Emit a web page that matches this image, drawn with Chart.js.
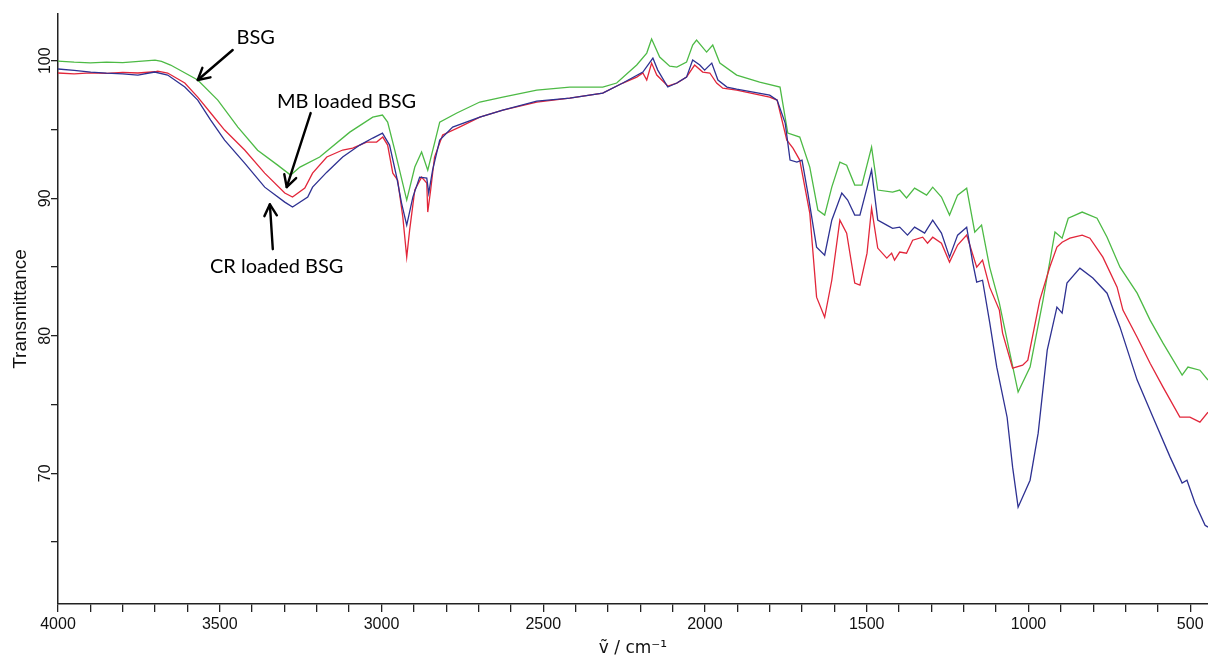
<!DOCTYPE html>
<html><head><meta charset="utf-8">
<script src="https://cdn.jsdelivr.net/npm/chart.js@4.4.1/dist/chart.umd.min.js"></script>
<style>html,body{margin:0;padding:0;background:#fff;} #wrap{width:1208px;height:659px;}</style>
</head><body><div id="wrap"><canvas id="c" width="1208" height="659"></canvas></div>
<script>
// ---- data (wavenumber in cm^-1, transmittance in %) ----
const bsgWavenumber = [4000,3950,3900,3850,3800,3750,3700,3680,3652,3568,3506,3444,3383,3321,3281,3252,3191,3098,3027,2997,2981,2959,2922,2897,2876,2857,2836,2820,2767,2696,2625,2520,2418,2316,2273,2211,2180,2165,2140,2109,2087,2057,2038,2026,1995,1976,1954,1902,1831,1768,1744,1707,1676,1651,1630,1608,1583,1562,1537,1515,1485,1466,1420,1398,1377,1352,1315,1296,1269,1244,1219,1191,1166,1145,1120,1090,1066,1032,995,955,918,896,877,834,788,757,717,664,624,584,525,507,470,445];
const bsgTransmittance = [99.98,99.9,99.85,99.9,99.87,99.95,100.05,99.95,99.69,98.6,97.14,95.18,93.5,92.41,91.69,92.27,93.0,94.81,95.9,96.05,95.54,93.5,89.87,92.27,93.36,92.05,94.01,95.54,96.2,97.0,97.35,97.87,98.09,98.09,98.38,99.69,100.56,101.58,100.27,99.61,99.54,99.9,101.14,101.5,100.63,101.14,99.83,98.96,98.45,98.09,94.74,94.45,92.27,89.14,88.78,90.81,92.63,92.41,90.96,90.96,93.72,90.6,90.45,90.6,90.02,90.74,90.23,90.81,90.09,88.78,90.23,90.74,87.54,88.05,85.0,82.38,79.69,75.91,77.73,82.6,87.55,87.1,88.55,89.0,88.55,87.17,84.99,83.1,81.14,79.47,77.14,77.73,77.5,76.78];

const mbWavenumber = [4000,3950,3900,3850,3800,3753,3700,3692,3661,3608,3568,3528,3485,3423,3361,3299,3275,3237,3213,3169,3120,3089,3046,3015,2996,2981,2965,2950,2934,2922,2913,2897,2876,2860,2857,2848,2836,2811,2759,2696,2625,2520,2418,2316,2254,2211,2192,2180,2165,2149,2115,2087,2057,2032,2007,1985,1964,1945,1902,1800,1777,1747,1728,1707,1676,1655,1630,1608,1583,1562,1537,1521,1499,1485,1466,1438,1423,1414,1398,1377,1358,1327,1312,1296,1269,1244,1219,1191,1160,1142,1120,1090,1080,1049,1018,1002,965,934,912,896,872,834,810,770,726,708,664,624,584,532,501,470,445];
const mbTransmittance = [99.11,99.05,99.12,99.08,99.15,99.11,99.2,99.25,99.11,98.38,97.36,96.2,94.96,93.51,91.83,90.38,90.09,90.74,91.83,93.0,93.51,93.65,94.09,94.09,94.45,93.87,91.83,91.32,88.63,85.72,87.69,90.6,91.54,91.11,89.0,90.6,93.0,94.6,95.18,95.9,96.41,97.0,97.29,97.65,98.38,98.81,99.11,98.6,99.83,98.96,98.16,98.38,98.81,99.69,99.18,99.11,98.38,98.01,97.87,97.36,97.14,94.23,93.65,92.78,88.92,82.81,81.35,84.04,88.41,87.47,83.83,83.69,86.01,89.29,86.38,85.65,86.01,85.5,86.09,86.01,86.95,87.17,86.74,87.17,86.74,85.36,86.6,87.32,84.99,85.5,83.54,81.87,80.2,77.65,77.87,78.23,82.6,85.0,86.45,86.81,87.1,87.32,87.1,85.72,83.54,81.87,79.9,78.0,76.27,74.09,74.09,73.72,74.45];

const crWavenumber = [4000,3950,3899,3850,3800,3753,3701,3661,3608,3568,3528,3485,3423,3361,3299,3275,3228,3213,3169,3120,3067,3027,2997,2975,2953,2938,2922,2903,2882,2860,2854,2842,2820,2780,2696,2625,2520,2418,2316,2254,2192,2161,2146,2115,2087,2057,2038,2016,2001,1979,1960,1932,1902,1800,1777,1752,1737,1716,1700,1682,1655,1630,1608,1577,1559,1537,1521,1485,1466,1438,1420,1398,1374,1352,1321,1296,1269,1244,1219,1191,1172,1160,1142,1120,1098,1066,1049,1032,995,970,942,912,896,881,841,801,757,717,664,615,562,525,510,485,454,445];
const crTransmittance = [99.4,99.3,99.18,99.1,99.05,98.96,99.18,98.96,98.09,97.14,95.69,94.23,92.56,90.81,89.72,89.36,90.09,90.81,91.9,93.0,93.87,94.38,94.74,93.87,91.54,89.65,88.05,90.09,91.54,91.47,90.38,92.05,94.23,95.18,95.9,96.41,97.07,97.29,97.65,98.38,99.18,100.2,99.32,98.09,98.38,98.81,100.05,99.69,99.32,99.83,98.6,98.09,97.94,97.5,97.14,95.47,92.78,92.63,92.78,90.38,86.45,85.87,88.41,90.38,89.87,88.78,88.78,92.05,88.41,88.05,87.82,87.9,87.32,87.9,87.47,88.41,87.47,85.72,87.32,87.9,85.29,83.9,84.04,81.0,77.72,74.08,70.45,67.54,69.5,72.92,78.96,82.09,81.65,83.83,84.92,84.2,83.1,80.63,76.78,74.08,71.18,69.29,69.5,67.83,66.23,66.09];

const xTickStep = 100;   // minor ticks every 100 cm-1, labels every 500
const yTickStep = 5;     // minor ticks every 5, labels every 10

// ---- annotation layout (in data units) ----
const notes = [
  {text:'BSG',           at:[3389,101.72], from:[3460,100.78], to:[3568,98.6]},
  {text:'MB loaded BSG', at:[3108,97.07],  from:[3219,96.2],   to:[3293,90.82]},
  {text:'CR loaded BSG', at:[3324,85.07],  from:[3336,86.3],   to:[3345,89.56]}
];

function pairs(xs, ys){ return xs.map((x,i)=>({x:x, y:ys[i]})); }

const annotationPlugin = {
  id:'notes',
  afterDatasetsDraw(chart){
    const {ctx, scales:{x, y}} = chart;
    ctx.save();
    ctx.strokeStyle = '#000'; ctx.fillStyle = '#000';
    ctx.lineWidth = 2.4; ctx.lineCap = 'round'; ctx.lineJoin='round';
    ctx.font = '20px Lato';
    ctx.textAlign = 'center'; ctx.textBaseline = 'middle';
    notes.forEach(n=>{
      ctx.fillText(n.text, x.getPixelForValue(n.at[0]), y.getPixelForValue(n.at[1]));
      const x1 = x.getPixelForValue(n.from[0]), y1 = y.getPixelForValue(n.from[1]);
      const x2 = x.getPixelForValue(n.to[0]),   y2 = y.getPixelForValue(n.to[1]);
      ctx.beginPath(); ctx.moveTo(x1,y1); ctx.lineTo(x2,y2); ctx.stroke();
      const a = Math.atan2(y2-y1, x2-x1), L = 13, s = 0.5;
      ctx.beginPath();
      ctx.moveTo(x2 - L*Math.cos(a - s), y2 - L*Math.sin(a - s));
      ctx.lineTo(x2, y2);
      ctx.lineTo(x2 - L*Math.cos(a + s), y2 - L*Math.sin(a + s));
      ctx.stroke();
    });
    ctx.restore();
  }
};

const lineStyle = {showLine:true, pointRadius:0, borderWidth:1.3, tension:0, fill:false};

new Chart(document.getElementById('c'), {
  type:'scatter',
  data:{ datasets:[
    Object.assign({label:'CR loaded BSG', data:pairs(crWavenumber, crTransmittance), borderColor:'#2e3192'}, lineStyle),
    Object.assign({label:'MB loaded BSG', data:pairs(mbWavenumber, mbTransmittance), borderColor:'#e2263a'}, lineStyle),
    Object.assign({label:'BSG', data:pairs(bsgWavenumber, bsgTransmittance), borderColor:'#4dba45'}, lineStyle)
  ]},
  options:{
    responsive:false, animation:false, devicePixelRatio:1,
    layout:{padding:{top:14, right:0, left:0, bottom:0}},
    plugins:{legend:{display:false}, tooltip:{enabled:false}},
    scales:{
      x:{
        type:'linear', reverse:true, min:445, max:4000,
        border:{display:true, color:'#222', width:1.5},
        grid:{drawOnChartArea:false, drawTicks:true, tickLength:8, color:'#222', lineWidth:1.3},
        ticks:{stepSize:xTickStep, autoSkip:false, includeBounds:false, maxRotation:0, minRotation:0, padding:3,
               color:'#111', font:{family:'Liberation Sans', size:16},
               callback:(v)=> (Math.abs(v % 500) < 1e-6 ? String(v) : '')},
        title:{display:true, text:'\u1E7D / cm\u207B\u00B9', color:'#111',
               font:{family:'DejaVu Sans', size:17}, padding:{top:0, bottom:0}},
        afterFit:(s)=>{ s.height = 55; }
      },
      y:{
        type:'linear', min:60.5, max:103.4,
        border:{display:true, color:'#222', width:1.5},
        grid:{drawOnChartArea:false, drawTicks:true, tickLength:7, color:'#222', lineWidth:1.3},
        ticks:{stepSize:yTickStep, autoSkip:false, includeBounds:false, minRotation:90, maxRotation:90,
               crossAlign:'center', padding:-8, color:'#111', font:{family:'Liberation Sans', size:16},
               callback:(v)=> (Math.abs(v % 10) < 1e-6 ? String(v) : '')},
        title:{display:true, text:'Transmittance', color:'#111',
               font:{family:'Liberation Sans', size:19}, padding:{top:9, bottom:0}},
        afterFit:(s)=>{ s.width = 58; }
      }
    }
  },
  plugins:[annotationPlugin]
});
</script></body></html>
